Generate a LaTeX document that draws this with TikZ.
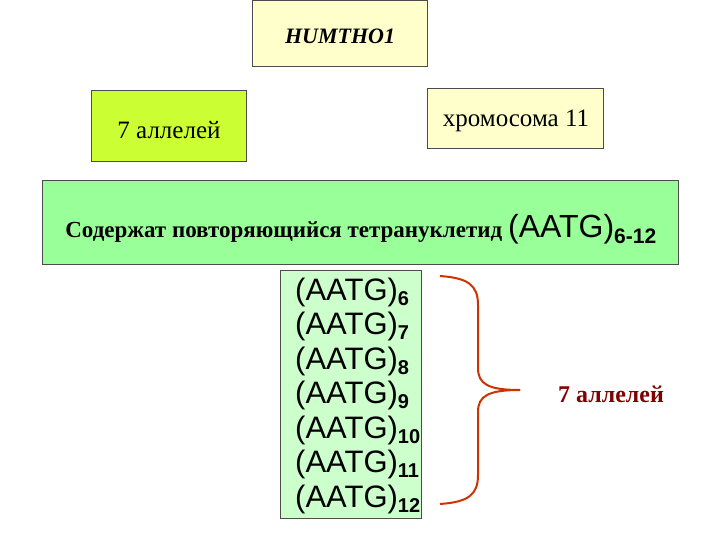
\documentclass[tikz,border=0pt]{standalone}
\usepackage{fontspec}
\setmainfont{Liberation Serif}
\newfontfamily\arial{Liberation Sans}
\begin{document}
\begin{tikzpicture}[x=1pt,y=-1pt,
  boxa/.style={draw=black!70,line width=0.6pt},
  aatg/.style={font=\arial\fontsize{31}{35}\selectfont,anchor=west,inner sep=0}]
\useasboundingbox (0,0) rectangle (720,540);
\definecolor{ly}{HTML}{FFFFCC}
\definecolor{yg}{HTML}{CCFF33}
\definecolor{gr}{HTML}{99FF99}
\definecolor{lg}{HTML}{CCFFCC}
\definecolor{br}{HTML}{CC3300}
\definecolor{dr}{HTML}{800000}
\filldraw[boxa,fill=ly] (252,0) rectangle (427,66);
\node (h) at (340,36) {\fontsize{22}{26}\selectfont\bfseries\itshape HUMTHO1};
\filldraw[boxa,fill=yg] (91,90) rectangle (246,161);
\node (a7) at (169,130) {\fontsize{25}{29}\selectfont 7 аллелей};
\filldraw[boxa,fill=ly] (427,88) rectangle (603,148);
\node (chr) at (516,121) {\fontsize{25}{29}\selectfont хромосома 11};
\filldraw[boxa,fill=gr] (42,180) rectangle (678,264);
\node (s) at (361,229) {\fontsize{23}{27}\selectfont\bfseries Содержат повторяющийся тетрануклетид {\arial\fontsize{32}{36}\selectfont\mdseries (AATG)$_{\hbox{\arial\fontsize{21}{24}\selectfont\bfseries 6-12}}$}};
\filldraw[boxa,fill=lg] (280,270) rectangle (421,518);
\foreach \n [count=\i from 0] in {6,...,12}
  \node[aatg] (l\n) at (295,{292+\i*34.5}) {(AATG)$_{\hbox{\arial\fontsize{20}{23}\selectfont\bfseries \n}}$};
\draw[br,line width=2pt] (440,276) .. controls (468,278) and (478,285) .. (478,305)
  -- (478,368) .. controls (478,384) and (488,390) .. (520,390);
\draw[br,line width=2pt] (440,504) .. controls (468,502) and (478,495) .. (478,475)
  -- (478,412) .. controls (478,396) and (488,390) .. (520,390);
\node[text=dr] (r7) at (611,394) {\fontsize{24}{28}\selectfont\bfseries 7 аллелей};
\end{tikzpicture}
\end{document}
